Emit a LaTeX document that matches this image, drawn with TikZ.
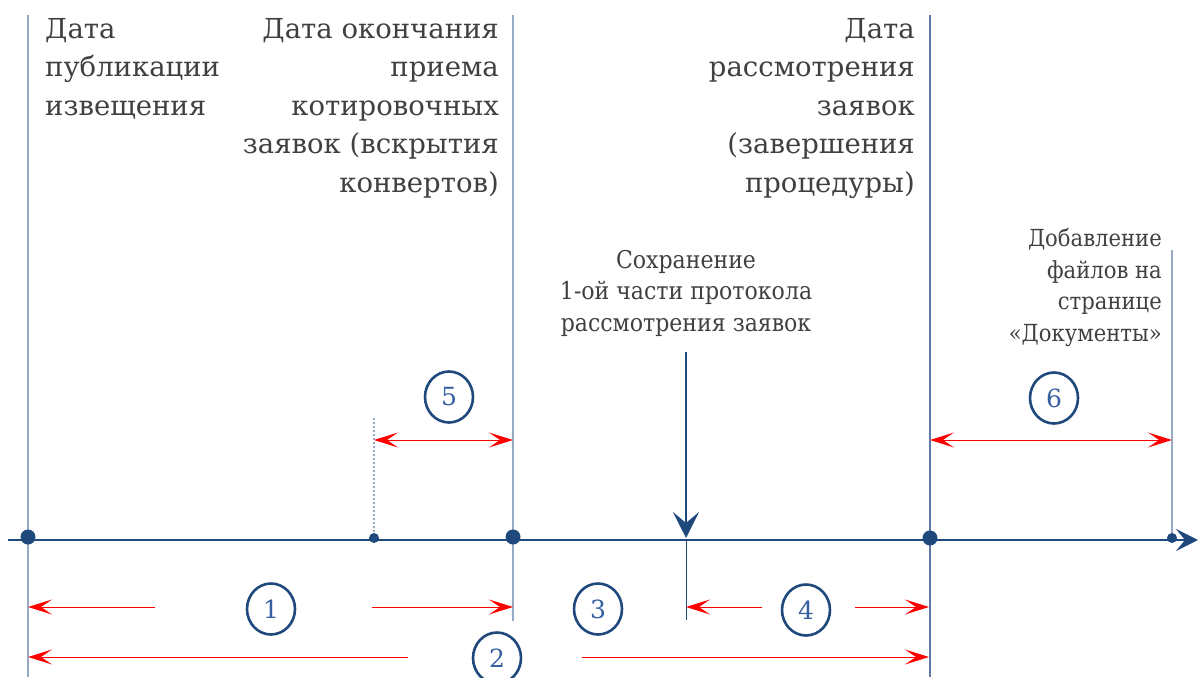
\documentclass[tikz,border=0pt]{standalone}
\usepackage{fontspec}
\setmainfont{DejaVu Serif}
\newfontfamily\condfont{DejaVu Serif Condensed}
\usetikzlibrary{arrows.meta,shapes.geometric}
\definecolor{axisblue}{RGB}{31,73,125}
\definecolor{paleline}{RGB}{150,170,198}
\definecolor{midline}{RGB}{95,120,165}
\definecolor{numblue}{RGB}{52,95,160}
\definecolor{txtgray}{RGB}{64,64,64}
\tikzset{
  big/.style={font=\fontsize{27.5}{38.5}\selectfont, text=txtgray, inner sep=0pt, align=right},
  small/.style={font=\condfont\fontsize{24.5}{31.5}\selectfont, text=txtgray, inner sep=0pt},
  pale/.style={draw=paleline, line width=1.5pt},
  redarr/.style={draw=red, line width=1pt, -{Stealth[length=24pt,width=15pt,inset=11pt]}},
  redboth/.style={draw=red, line width=1pt, {Stealth[length=24pt,width=15pt,inset=11pt]}-{Stealth[length=24pt,width=15pt,inset=11pt]}},
  num/.style={draw=axisblue, line width=2.6pt, fill=white, ellipse, minimum width=48pt, minimum height=51pt, inner sep=0pt, text=numblue, font=\fontsize{25}{25}\selectfont},
  bigdot/.style={circle, fill=axisblue, minimum size=15pt, inner sep=0pt},
  smalldot/.style={circle, fill=axisblue, minimum size=10pt, inner sep=0pt},
}
\begin{document}
\begin{tikzpicture}[x=1pt,y=-1pt]
\useasboundingbox (0,0) rectangle (1198,677);
% coordinates
\coordinate (a0) at (8,540);
\coordinate (aend) at (1198,540);
% vertical lines
\coordinate (v1t) at (28,15); \coordinate (v1b) at (28,677);
\coordinate (v2t) at (513,15); \coordinate (v2b) at (513,621);
\coordinate (v3t) at (930,15); \coordinate (v3b) at (930,677);
\coordinate (v4t) at (1172,250);
\coordinate (v5t) at (374,418);
\coordinate (v6b) at (686,620);
\coordinate (arrtop) at (686,352);
\draw[pale] (v1t) -- (v1b);
\draw[pale] (v2t) -- (v2b);
\draw[draw=midline, line width=1.2pt] (v3t) -- (v3b);
\draw[pale] (v4t) -- (1172,540);
\draw[draw=paleline, line width=1.2pt, dash pattern=on 2pt off 2pt] (v5t) -- (374,540);
% axis
\draw[draw=axisblue, line width=2.9pt, -{Stealth[length=22pt,width=22pt,inset=9pt]}] (a0) -- (aend);
\draw[draw=axisblue, line width=1pt] (686,540) -- (v6b);
\draw[draw=axisblue, line width=2.8pt, -{Stealth[length=26pt,width=26pt,inset=11pt]}] (arrtop) -- (686,538);
% dots
\node[bigdot] (d1) at (28,537) {};
\node[bigdot] (d2) at (513,537) {};
\node[bigdot] (d3) at (930,538) {};
\node[smalldot] (d4) at (374,538) {};
\node[smalldot] (d5) at (1172,538) {};
% red arrows
\coordinate (r5a) at (374,440); \coordinate (r5b) at (513,440);
\draw[redboth] (r5a) -- (r5b);
\coordinate (r6a) at (930,440); \coordinate (r6b) at (1172,440);
\draw[redboth] (r6a) -- (r6b);
\coordinate (r1l) at (155,607); \coordinate (r1le) at (28,607);
\coordinate (r1r) at (372,607); \coordinate (r1re) at (513,607);
\draw[redarr] (r1l) -- (r1le);
\draw[redarr] (r1r) -- (r1re);
\coordinate (r4l) at (762,607); \coordinate (r4le) at (686,607);
\coordinate (r4r) at (855,607); \coordinate (r4re) at (929,607);
\draw[redarr] (r4l) -- (r4le);
\draw[redarr] (r4r) -- (r4re);
\coordinate (r2l) at (408,657); \coordinate (r2le) at (28,657);
\coordinate (r2r) at (582,657); \coordinate (r2re) at (929,657);
\draw[redarr] (r2l) -- (r2le);
\draw[redarr] (r2r) -- (r2re);
% numbers
\node[num] (n1) at (271,609) {1};
\node[num] (n2) at (497,658) {2};
\node[num] (n3) at (598,609) {3};
\node[num] (n4) at (806,610) {4};
\node[num] (n5) at (449,397) {5};
\node[num] (n6) at (1054,398) {6};
% texts
\node[big, align=left, anchor=north west] (t1) at (45,18) {Дата\\публикации\\извещения};
\node[big, anchor=north east] (t2) at (499,18) {Дата окончания\\приема\\котировочных\\заявок (вскрытия\\конвертов)};
\node[big, anchor=north east] (t3) at (915,18) {Дата\\рассмотрения\\заявок\\(завершения\\процедуры)};
\node[small, align=center, anchor=north] (t4) at (686,250) {Сохранение\\1-ой части протокола\\рассмотрения заявок};
\node[small, font=\condfont\fontsize{23.5}{31.7}\selectfont, align=right, anchor=north east] (t5) at (1162,228) {Добавление\\файлов на\\странице\\«Документы»};
\end{tikzpicture}
\end{document}
